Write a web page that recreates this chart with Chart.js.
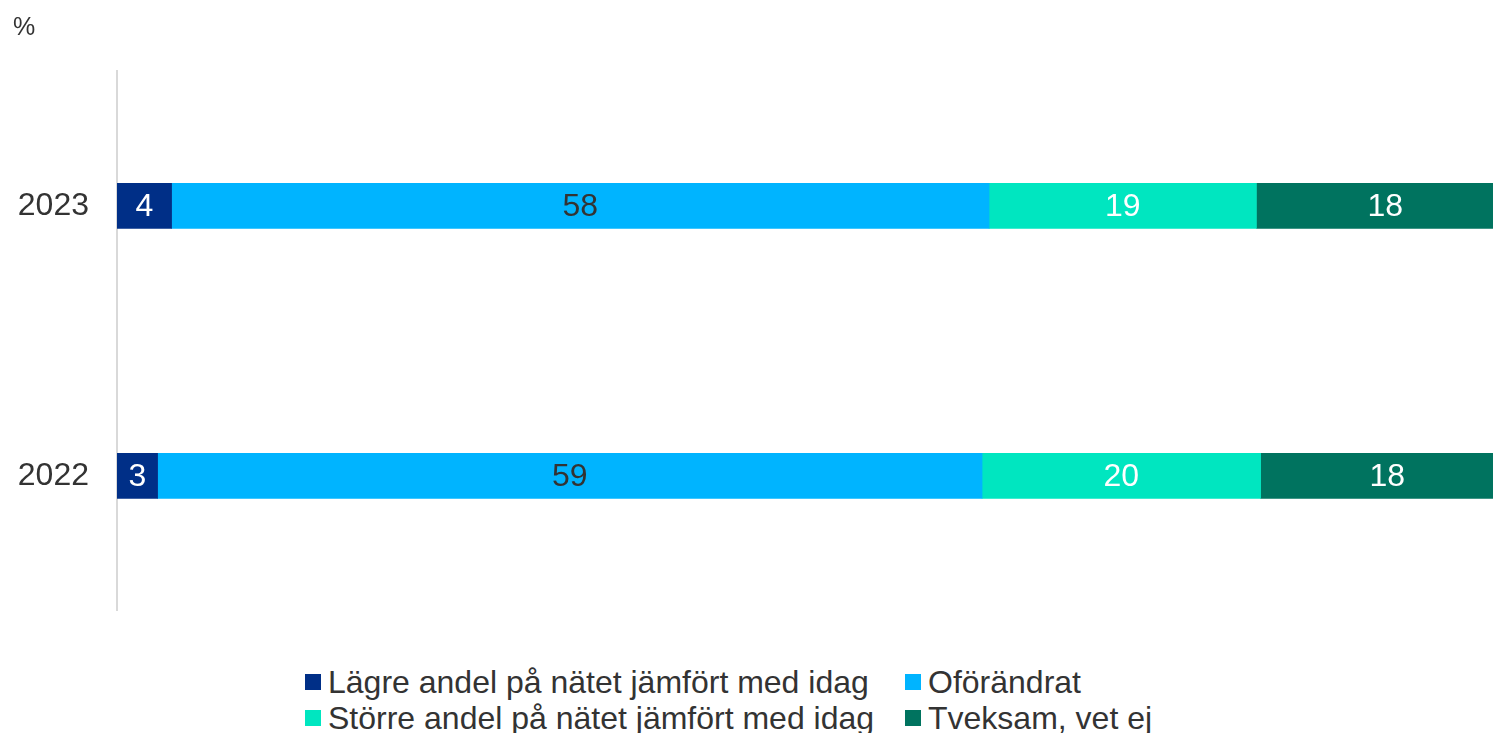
<!DOCTYPE html>
<html>
<head>
<meta charset="utf-8">
<script src="https://cdn.jsdelivr.net/npm/chart.js@4.4.1/dist/chart.umd.min.js"></script>
<style>
  html, body { margin: 0; padding: 0; background: #fff; overflow: hidden; }
  body { width: 1493px; height: 733px; position: relative; font-family: "Liberation Sans", Arial, sans-serif; }
  #wrap { position: absolute; left: 0; top: 0; width: 1493px; height: 658px; }
  #unit { position: absolute; left: 13px; top: 12px; font-size: 25px; color: #333; }
  #legend { position: absolute; left: 0; top: 0; width: 1493px; }
  .item { position: absolute; display: flex; align-items: center; font-size: 32px; color: #333; white-space: nowrap; line-height: 36px; }
  .sw { width: 16px; height: 16px; margin-right: 7px; flex: none; }
</style>
</head>
<body>
<div id="wrap"><canvas id="c" width="1493" height="658"></canvas></div>
<div id="unit">%</div>
<div id="legend"></div>
<script>
const categories = ["2023", "2022"];
const seriesNames = [
  "Lägre andel på nätet jämfört med idag",
  "Oförändrat",
  "Större andel på nätet jämfört med idag",
  "Tveksam, vet ej"
];
const lower    = [3.9, 2.9];
const same     = [58.4, 58.9];
const higher   = [19.1, 19.9];
const unsure   = [18.4, 18.1];
const colors = ["#002f87", "#00b4ff", "#00e6c0", "#00735f"];
const labelColors = ["#ffffff", "#333333", "#ffffff", "#ffffff"];

const seriesValues = [lower, same, higher, unsure];

const valueLabels = {
  id: "valueLabels",
  afterDatasetsDraw(chart) {
    const ctx = chart.ctx;
    ctx.save();
    ctx.font = "32px 'Liberation Sans', Arial, sans-serif";
    ctx.textAlign = "center";
    ctx.textBaseline = "middle";
    chart.data.datasets.forEach((ds, i) => {
      const meta = chart.getDatasetMeta(i);
      meta.data.forEach((el, j) => {
        const p = el.getProps(["x", "y", "base"], true);
        ctx.fillStyle = labelColors[i];
        ctx.fillText(String(Math.round(ds.data[j])), (p.x + p.base) / 2, p.y + 1);
      });
    });
    ctx.restore();
  }
};

new Chart(document.getElementById("c"), {
  type: "bar",
  data: {
    labels: categories,
    datasets: seriesNames.map((n, i) => ({
      label: n,
      data: seriesValues[i],
      backgroundColor: colors[i],
      borderWidth: 0,
      barThickness: 45
    }))
  },
  options: {
    indexAxis: "y",
    responsive: false,
    animation: false,
    layout: { padding: { top: 71, bottom: 20, left: 0, right: 0 } },
    plugins: { legend: { display: false }, tooltip: { enabled: false } },
    scales: {
      x: {
        stacked: true, display: false, min: 0, max: 98.3
      },
      y: {
        stacked: true,
        grid: { display: false, drawTicks: false },
        border: { display: true, color: "#d9d9d9", width: 2 },
        ticks: { color: "#333", font: { size: 32, family: "'Liberation Sans', Arial, sans-serif" }, padding: 28 },
        afterFit(scale) { scale.width = 117; }
      }
    }
  },
  plugins: [valueLabels]
});

const legend = document.getElementById("legend");
const pos = [[305, 664], [905, 664], [305, 700], [905, 700]];
seriesNames.forEach((n, i) => {
  const d = document.createElement("div");
  d.className = "item";
  d.style.left = pos[i][0] + "px";
  d.style.top = pos[i][1] + "px";
  d.innerHTML = '<span class="sw" style="background:' + colors[i] + '"></span><span></span>';
  d.lastChild.textContent = n;
  legend.appendChild(d);
});
</script>
</body>
</html>
